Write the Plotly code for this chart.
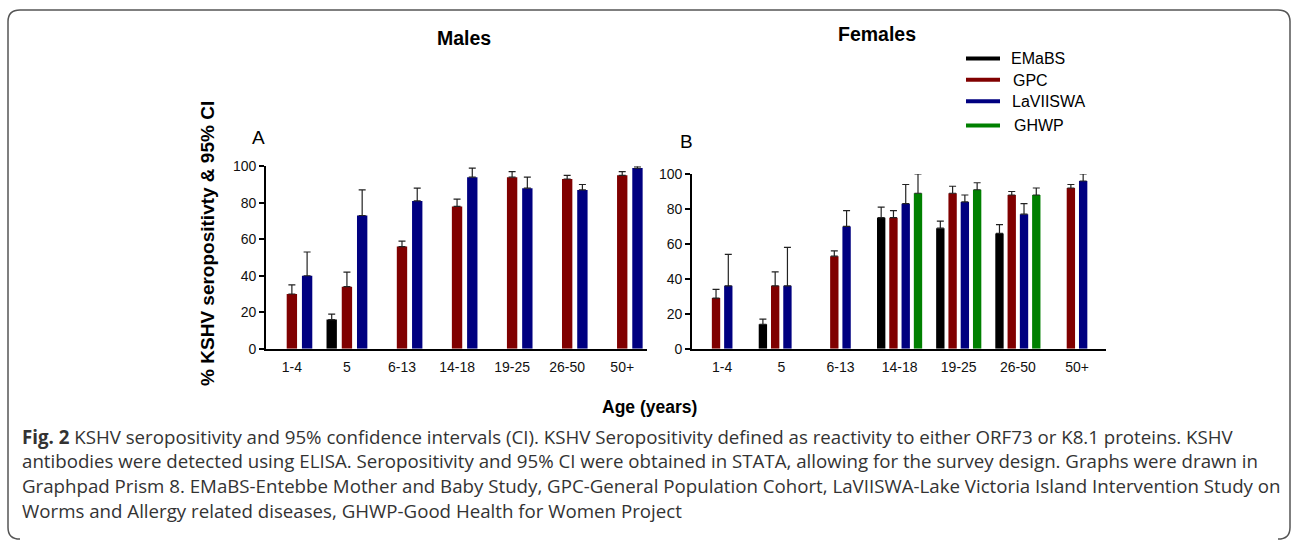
import plotly.graph_objects as go

W, H = 1292, 548

categories = ["1-4", "5", "6-13", "14-18", "19-25", "26-50", "50+"]

# Males: point estimates and upper 95% CI
m_emabs = [None, 16, None, None, None, None, None]
m_emabs_hi = [None, 19, None, None, None, None, None]
m_gpc = [30, 34, 56, 78, 94, 93, 95]
m_gpc_hi = [35, 42, 59, 82, 97, 95, 97]
m_lav = [40, 73, 81, 94, 88, 87, 99]
m_lav_hi = [53, 87, 88, 99, 94, 90, 100]

# Females
f_emabs = [None, 14, None, 75, 69, 66, None]
f_emabs_hi = [None, 17, None, 81, 73, 71, None]
f_gpc = [29, 36, 53, 75, 89, 88, 92]
f_gpc_hi = [34, 44, 56, 79, 93, 90, 94]
f_lav = [36, 36, 70, 83, 84, 77, 96]
f_lav_hi = [54, 58, 79, 94, 88, 83, 100]
f_ghwp = [None, None, None, 89, 91, 88, None]
f_ghwp_hi = [None, None, None, 100, 95, 92, None]

series_names = ["EMaBS", "GPC", "LaVIISWA", "GHWP"]
colors = {"EMaBS": "#000000", "GPC": "#800000", "LaVIISWA": "#000080", "GHWP": "#008000"}

y_ticks = [0, 20, 40, 60, 80, 100]

caption_lines = [
    "<b>Fig. 2</b> KSHV seropositivity and 95% confidence intervals (CI). KSHV Seropositivity defined as reactivity to either ORF73 or K8.1 proteins. KSHV",
    "antibodies were detected using ELISA. Seropositivity and 95% CI were obtained in STATA, allowing for the survey design. Graphs were drawn in",
    "Graphpad Prism 8. EMaBS-Entebbe Mother and Baby Study, GPC-General Population Cohort, LaVIISWA-Lake Victoria Island Intervention Study on",
    "Worms and Allergy related diseases, GHWP-Good Health for Women Project",
]


def px(x):
    return x / W


def py(y):
    return 1 - y / H


def upper(vals, his):
    return [None if v is None else h - v for v, h in zip(vals, his)]


def zeros(vals):
    return [None if v is None else 0 for v in vals]


fig = go.Figure()

males = [("EMaBS", m_emabs, m_emabs_hi), ("GPC", m_gpc, m_gpc_hi), ("LaVIISWA", m_lav, m_lav_hi)]
females = [("EMaBS", f_emabs, f_emabs_hi), ("GPC", f_gpc, f_gpc_hi),
           ("LaVIISWA", f_lav, f_lav_hi), ("GHWP", f_ghwp, f_ghwp_hi)]

for panel, (xa, ya) in ((males, ("x", "y")), (females, ("x2", "y2"))):
    for name, vals, his in panel:
        fig.add_trace(go.Bar(
            x=categories, y=vals, name=name, xaxis=xa, yaxis=ya,
            marker=dict(color=colors[name], line=dict(width=0)),
            error_y=dict(type="data", symmetric=False, array=upper(vals, his),
                         arrayminus=zeros(vals), color="#222222", thickness=1.2, width=3.5),
            showlegend=False, hoverinfo="x+y+name",
        ))

axis_font = dict(family="Liberation Sans, Arial, sans-serif", size=14, color="#111111")

common_x = dict(type="category", showline=True, linecolor="#000000", linewidth=1.6,
                ticks="outside", ticklen=5, tickcolor="rgba(0,0,0,0)", tickfont=axis_font,
                showgrid=False, zeroline=False, fixedrange=True)
common_y = dict(range=[0, 100], tickvals=y_ticks, showline=True, linecolor="#000000",
                linewidth=1.6, ticks="outside", ticklen=5, tickwidth=1.6, tickcolor="#000000",
                tickfont=axis_font, showgrid=False, zeroline=False, fixedrange=True)

fig.update_layout(
    width=W, height=H, margin=dict(l=0, r=0, t=0, b=0),
    paper_bgcolor="white", plot_bgcolor="white",
    barmode="group", bargap=0.17, bargroupgap=0.32,
    xaxis=dict(domain=[px(266), px(647)], range=[-0.47, 6.45], anchor="y", **common_x),
    yaxis=dict(domain=[py(351), py(163)], anchor="x", **common_y),
    xaxis2=dict(domain=[px(692), px(1106)], range=[-0.51, 6.49], anchor="y2", **common_x),
    yaxis2=dict(domain=[py(351), py(171)], anchor="x2", **common_y),
)

ann = []
bold_font = "Liberation Sans, Arial, sans-serif"


def add_text(text, x, y, size, bold=False, xanchor="center", angle=0, family=bold_font, color="#000000"):
    ann.append(dict(text=f"<b>{text}</b>" if bold else text, x=px(x), y=py(y), xref="paper", yref="paper",
                    xanchor=xanchor, yanchor="middle", showarrow=False, textangle=angle,
                    font=dict(family=family, size=size, color=color)))


add_text("Males", 464, 31, 19.5, bold=True)
add_text("Females", 877, 27, 19.5, bold=True)
add_text("A", 258, 133, 19)
add_text("B", 686, 137, 19)
add_text("% KSHV seropositivty &amp; 95% CI", 208, 243, 19, bold=True, angle=-90)
add_text("Age (years)", 649, 411, 17.5, bold=True)

legend_rows = [("EMaBS", 52, 52, 1009), ("GPC", 74, 75, 1011), ("LaVIISWA", 96, 96, 1010), ("GHWP", 121, 121, 1012)]
shapes = []
for name, ly, ty, tx in legend_rows:
    shapes.append(dict(type="line", xref="paper", yref="paper", x0=px(966), x1=px(1000), y0=py(ly), y1=py(ly),
                       line=dict(color=colors[name], width=4)))
    add_text(name, tx, ty, 16, xanchor="left")

cap_y = [441, 466.5, 492, 517.5]
for line, yy in zip(caption_lines, cap_y):
    add_text(line, 20, yy, 18.7, xanchor="left", family="Open Sans, sans-serif", color="#333333")

# rounded outer frame
r = 12
L, T, R, B = 8, 2, 1290, 547
path = (f"M {px(L + r)},{py(B)} Q {px(L)},{py(B)} {px(L)},{py(B - r)} "
        f"L {px(L)},{py(T + r)} Q {px(L)},{py(T)} {px(L + r)},{py(T)} "
        f"L {px(R - r)},{py(T)} Q {px(R)},{py(T)} {px(R)},{py(T + r)} L {px(R)},{py(B - r)} "
        f"Q {px(R)},{py(B)} {px(R - r)},{py(B)}")
shapes.append(dict(type="path", xref="paper", yref="paper", path=path,
                   line=dict(color="#555555", width=1.5)))

fig.update_layout(annotations=ann, shapes=shapes)

fig.write_html("out.html", config={"displayModeBar": False},
               post_script="document.body.style.margin='0';document.body.style.overflow='hidden';")
